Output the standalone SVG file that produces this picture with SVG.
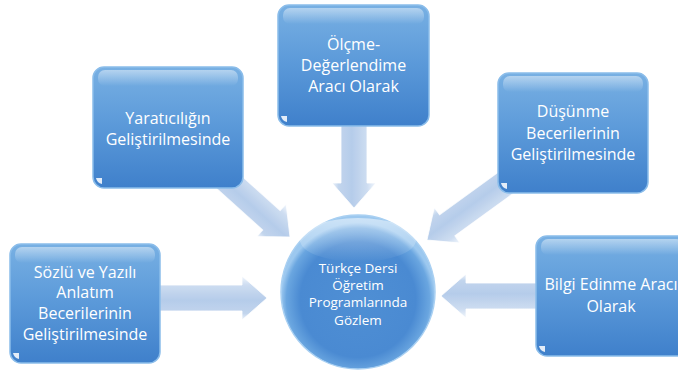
<svg xmlns="http://www.w3.org/2000/svg" width="678" height="373" viewBox="0 0 678 373">
<defs>
<linearGradient id="boxG" x1="0" y1="0" x2="0" y2="1">
<stop offset="0" stop-color="#78b0e3"/>
<stop offset="0.45" stop-color="#5d9bda"/>
<stop offset="1" stop-color="#3f80cb"/>
</linearGradient>
<linearGradient id="glossG" x1="0" y1="0" x2="0" y2="1">
<stop offset="0" stop-color="#ffffff" stop-opacity="0.45"/>
<stop offset="1" stop-color="#ffffff" stop-opacity="0"/>
</linearGradient>
<radialGradient id="circG" cx="0.5" cy="0.55" r="0.5">
<stop offset="0" stop-color="#4f8fd4"/>
<stop offset="0.75" stop-color="#4a8ad2"/>
<stop offset="0.93" stop-color="#6aa6e0"/>
<stop offset="1" stop-color="#9cc8ef"/>
</radialGradient>
<linearGradient id="circGloss" x1="0" y1="0" x2="0" y2="1">
<stop offset="0" stop-color="#ffffff" stop-opacity="0.5"/>
<stop offset="1" stop-color="#ffffff" stop-opacity="0"/>
</linearGradient>
<linearGradient id="arrG" gradientUnits="userSpaceOnUse" x1="0" y1="-22" x2="0" y2="22">
<stop offset="0" stop-color="#f2f7fd"/>
<stop offset="0.2" stop-color="#c9daf0"/>
<stop offset="0.55" stop-color="#aec7e8"/>
<stop offset="0.85" stop-color="#bcd1ec"/>
<stop offset="1" stop-color="#eef4fb"/>
</linearGradient>
<style>
.box{fill:url(#boxG);stroke:#8bbdea;stroke-width:1.5}
.gloss{fill:url(#glossG)}
.corner{fill:#ffffff;opacity:0.85}
.lbl{font-family:"Open Sans","Liberation Sans",sans-serif;font-size:16px;fill:#ffffff;text-anchor:middle}
.clbl{font-family:"Open Sans","Liberation Sans",sans-serif;font-size:13.5px;fill:#ffffff;text-anchor:middle}
.arr{fill:url(#arrG);stroke:#ffffff;stroke-width:1;stroke-opacity:0.8;opacity:0.9}
</style>
</defs>
<rect width="678" height="373" fill="#ffffff"/>
<g id="connectors">
<path class="arr" transform="translate(354,208) rotate(90)" d="M-98,-13 L-25,-13 L-25,-22 L0,0 L-25,22 L-25,13 L-98,13 Z"/>
<path class="arr" transform="translate(290,237) rotate(42)" d="M-100,-13 L-25,-13 L-25,-22 L0,0 L-25,22 L-25,13 L-100,13 Z"/>
<path class="arr" transform="translate(427,240) rotate(144)" d="M-112,-13 L-25,-13 L-25,-22 L0,0 L-25,22 L-25,13 L-112,13 Z"/>
<path class="arr" transform="translate(267,298)" d="M-117,-13 L-25,-13 L-25,-22 L0,0 L-25,22 L-25,13 L-117,13 Z"/>
<path class="arr" transform="translate(441,296) rotate(180)" d="M-110,-13 L-25,-13 L-25,-22 L0,0 L-25,22 L-25,13 L-110,13 Z"/>
</g>
<g id="olcme">
<rect class="box" x="278" y="5" width="151" height="121" rx="11"/>
<rect class="gloss" x="283" y="8" width="141" height="16" rx="7"/>
<path class="corner" d="M281,116 L287,116 L287,122 Q282,121 281,116 Z"/>
<text class="lbl" x="353.5" y="50">Ölçme-</text>
<text class="lbl" x="353.5" y="71">Değerlendime</text>
<text class="lbl" x="353.5" y="92">Aracı Olarak</text>
</g>
<g id="yaraticilik">
<rect class="box" x="93" y="67" width="150" height="121" rx="11"/>
<rect class="gloss" x="98" y="70" width="140" height="16" rx="7"/>
<path class="corner" d="M96,178 L102,178 L102,184 Q97,183 96,178 Z"/>
<text class="lbl" x="168" y="124">Yaratıcılığın</text>
<text class="lbl" x="168" y="145">Geliştirilmesinde</text>
</g>
<g id="dusunme">
<rect class="box" x="498" y="73" width="150" height="120" rx="11"/>
<rect class="gloss" x="503" y="76" width="140" height="16" rx="7"/>
<path class="corner" d="M501,183 L507,183 L507,189 Q502,188 501,183 Z"/>
<text class="lbl" x="573" y="117">Düşünme</text>
<text class="lbl" x="573" y="139">Becerilerinin</text>
<text class="lbl" x="573" y="160">Geliştirilmesinde</text>
</g>
<g id="sozlu">
<rect class="box" x="10" y="244" width="150" height="119" rx="11"/>
<rect class="gloss" x="15" y="247" width="140" height="16" rx="7"/>
<path class="corner" d="M13,353 L19,353 L19,359 Q14,358 13,353 Z"/>
<text class="lbl" x="85" y="278">Sözlü ve Yazılı</text>
<text class="lbl" x="85" y="298">Anlatım</text>
<text class="lbl" x="85" y="319">Becerilerinin</text>
<text class="lbl" x="85" y="340">Geliştirilmesinde</text>
</g>
<g id="bilgi">
<rect class="box" x="536" y="236" width="152" height="120" rx="11"/>
<rect class="gloss" x="541" y="239" width="142" height="16" rx="7"/>
<path class="corner" d="M539,346 L545,346 L545,352 Q540,351 539,346 Z"/>
<text class="lbl" x="611" y="290">Bilgi Edinme Aracı</text>
<text class="lbl" x="611" y="312">Olarak</text>
</g>
<g id="center">
<circle cx="358" cy="292" r="77" fill="url(#circG)" stroke="#a9d0f2" stroke-width="1.5"/>
<ellipse cx="358" cy="240" rx="58" ry="22" fill="url(#circGloss)"/>
<text class="clbl" x="358" y="273">Türkçe Dersi</text>
<text class="clbl" x="358" y="290">Öğretim</text>
<text class="clbl" x="358" y="307">Programlarında</text>
<text class="clbl" x="358" y="325">Gözlem</text>
</g>
</svg>
